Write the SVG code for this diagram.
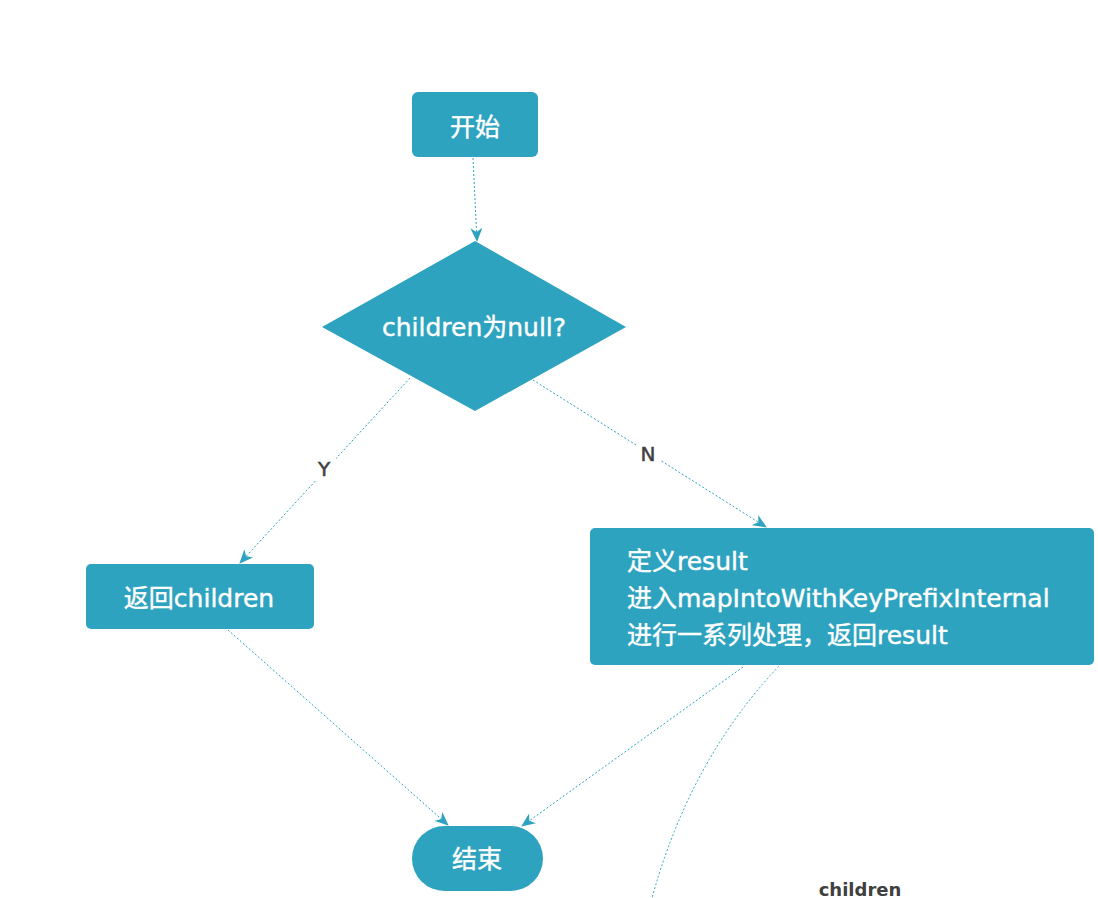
<svg xmlns="http://www.w3.org/2000/svg" width="1098" height="898" viewBox="0 0 1098 898">
<style>
.node{fill:#2ea3c0;}
.t{fill:#ffffff;stroke:#ffffff;stroke-width:0.4;font-family:"DejaVu Sans","Noto Sans CJK SC",sans-serif;font-size:25px;}
.c{fill:none;stroke:#2ea3c0;stroke-width:1;stroke-dasharray:2 2;}
.lbl{fill:#404040;stroke:#404040;stroke-width:0.5;font-family:"DejaVu Sans","Noto Sans CJK SC",sans-serif;font-size:20px;}
.lbl2{fill:#404040;font-family:"DejaVu Sans","Noto Sans CJK SC",sans-serif;font-size:18px;font-weight:bold;}
</style>
<defs>
<marker id="arr" viewBox="0 0 14 12" refX="13" refY="6" markerWidth="14" markerHeight="12" markerUnits="userSpaceOnUse" orient="auto">
<path d="M0,0 L14,6 L0,12 L4,6 z" fill="#2ea3c0"/>
</marker>
</defs>
<rect width="1098" height="898" fill="#ffffff"/>
<g id="connectors">
<path class="c" d="M473,158 L477,241" marker-end="url(#arr)"/>
<path class="c" d="M410,378 L240,563" marker-end="url(#arr)"/>
<path class="c" d="M533,380 L766,527" marker-end="url(#arr)"/>
<path class="c" d="M228,630 L448,825" marker-end="url(#arr)"/>
<path class="c" d="M743,667 L522,826" marker-end="url(#arr)"/>
<path class="c" d="M779,666 Q690,760 652,898"/>
<rect x="312" y="455" width="24" height="26" fill="#ffffff"/>
<text class="lbl" x="324" y="476" text-anchor="middle">Y</text>
<rect x="636" y="440" width="24" height="26" fill="#ffffff"/>
<text class="lbl" x="648" y="461" text-anchor="middle">N</text>
<text class="lbl2" x="860" y="896" text-anchor="middle">children</text>
</g>
<g id="start">
<rect class="node" x="412" y="92" width="126" height="65" rx="6"/>
<text class="t" x="475" y="136" text-anchor="middle">开始</text>
</g>
<g id="decision">
<polygon class="node" points="475,241 626,327 475,411 322,327"/>
<text class="t" x="474" y="336" text-anchor="middle">children为null?</text>
</g>
<g id="return-children">
<rect class="node" x="86" y="564" width="228" height="65" rx="5"/>
<text class="t" x="199" y="607" text-anchor="middle">返回children</text>
</g>
<g id="process">
<rect class="node" x="590" y="528" width="504" height="137" rx="5"/>
<text class="t" x="627" y="570">定义result</text>
<text class="t" x="627" y="607">进入mapIntoWithKeyPrefixInternal</text>
<text class="t" x="627" y="644">进行一系列处理，返回result</text>
</g>
<g id="end">
<rect class="node" x="412" y="826" width="131" height="65" rx="32.5"/>
<text class="t" x="477" y="868" text-anchor="middle">结束</text>
</g>
</svg>
